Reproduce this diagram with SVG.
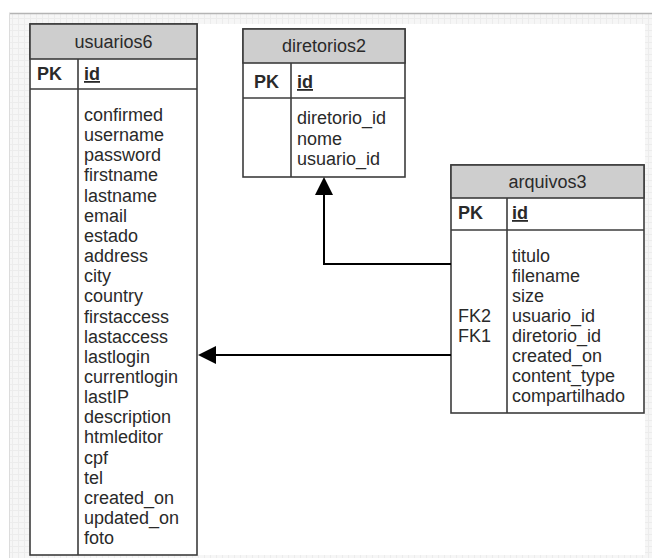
<svg xmlns="http://www.w3.org/2000/svg" width="652" height="558" viewBox="0 0 652 558">
  <defs>
    <pattern id="grid" width="6" height="6" patternUnits="userSpaceOnUse">
      <rect width="6" height="6" fill="#f6f6f6"/>
      <path d="M0 0.5H6M0.5 0V6" stroke="#ececec" stroke-width="1"/>
    </pattern>
    <marker id="arrow" viewBox="0 0 18 18" markerWidth="18" markerHeight="18" markerUnits="userSpaceOnUse" refX="12" refY="9" orient="auto">
      <path d="M0,0 L18,9 L0,18 z" fill="#000"/>
    </marker>
    <style>
      .box { fill: #ffffff; stroke: #3c3c3c; stroke-width: 1.6; }
      .hdr { fill: #cecece; stroke: #3c3c3c; stroke-width: 1.6; }
      .ln { stroke: #3c3c3c; stroke-width: 1.6; fill: none; }
      text { font-family: "Liberation Sans", Arial, sans-serif; font-size: 18px; fill: #2a2a2a; }
      .ttl { text-anchor: middle; }
      .pk { font-weight: bold; }
      .u { text-decoration: underline; font-weight: bold; }
      .conn { stroke: #000; stroke-width: 2; fill: none; }
    </style>
  </defs>

  <rect x="0" y="0" width="652" height="558" fill="#ffffff"/>
  <g id="frame">
    <rect x="9" y="13" width="643" height="545" fill="url(#grid)"/>
    <rect x="29" y="24" width="616" height="531" fill="#ffffff"/>
    <line x1="9" y1="13.5" x2="652" y2="13.5" stroke="#b4b4b4" stroke-width="1.5"/>
    <line x1="9.5" y1="13" x2="9.5" y2="558" stroke="#dcdcdc" stroke-width="1"/>
  </g>

  <g id="usuarios6">
    <rect class="box" x="30" y="24" width="167" height="531"/>
    <rect class="hdr" x="30" y="24" width="167" height="35"/>
    <line class="ln" x1="30" y1="89" x2="197" y2="89"/>
    <line class="ln" x1="78" y1="59" x2="78" y2="555"/>
    <text class="ttl" x="113.5" y="48">usuarios6</text>
    <text class="pk" x="37" y="80">PK</text>
    <text class="u" x="84" y="80">id</text>
    <text x="84" y="121">confirmed</text>
    <text x="84" y="141.15">username</text>
    <text x="84" y="161.3">password</text>
    <text x="84" y="181.45">firstname</text>
    <text x="84" y="201.6">lastname</text>
    <text x="84" y="221.75">email</text>
    <text x="84" y="241.9">estado</text>
    <text x="84" y="262.05">address</text>
    <text x="84" y="282.2">city</text>
    <text x="84" y="302.35">country</text>
    <text x="84" y="322.5">firstaccess</text>
    <text x="84" y="342.65">lastaccess</text>
    <text x="84" y="362.8">lastlogin</text>
    <text x="84" y="382.95">currentlogin</text>
    <text x="84" y="403.1">lastIP</text>
    <text x="84" y="423.25">description</text>
    <text x="84" y="443.4">htmleditor</text>
    <text x="84" y="463.55">cpf</text>
    <text x="84" y="483.7">tel</text>
    <text x="84" y="503.85">created_on</text>
    <text x="84" y="524">updated_on</text>
    <text x="84" y="544.15">foto</text>
  </g>

  <g id="diretorios2">
    <rect class="box" x="243" y="29" width="162" height="148"/>
    <rect class="hdr" x="243" y="29" width="162" height="34"/>
    <line class="ln" x1="243" y1="98" x2="405" y2="98"/>
    <line class="ln" x1="291" y1="63" x2="291" y2="177"/>
    <text class="ttl" x="324" y="52">diretorios2</text>
    <text class="pk" x="254" y="88">PK</text>
    <text class="u" x="297" y="88">id</text>
    <text x="297" y="124">diretorio_id</text>
    <text x="297" y="144.5">nome</text>
    <text x="297" y="165">usuario_id</text>
  </g>

  <g id="arquivos3">
    <rect class="box" x="451" y="165" width="193" height="248"/>
    <rect class="hdr" x="451" y="165" width="193" height="33"/>
    <line class="ln" x1="451" y1="230" x2="644" y2="230"/>
    <line class="ln" x1="507" y1="198" x2="507" y2="413"/>
    <text class="ttl" x="547.5" y="188">arquivos3</text>
    <text class="pk" x="458" y="219">PK</text>
    <text class="u" x="512" y="219">id</text>
    <text x="512" y="262">titulo</text>
    <text x="512" y="282">filename</text>
    <text x="512" y="302">size</text>
    <text x="512" y="322">usuario_id</text>
    <text x="512" y="342">diretorio_id</text>
    <text x="512" y="362">created_on</text>
    <text x="512" y="382">content_type</text>
    <text x="512" y="402">compartilhado</text>
    <text x="458" y="322">FK2</text>
    <text x="458" y="342">FK1</text>
  </g>

  <g id="connectors">
    <path class="conn" d="M451 264 H324 V183" marker-end="url(#arrow)"/>
    <path class="conn" d="M451 355 H204" marker-end="url(#arrow)"/>
  </g>
</svg>
